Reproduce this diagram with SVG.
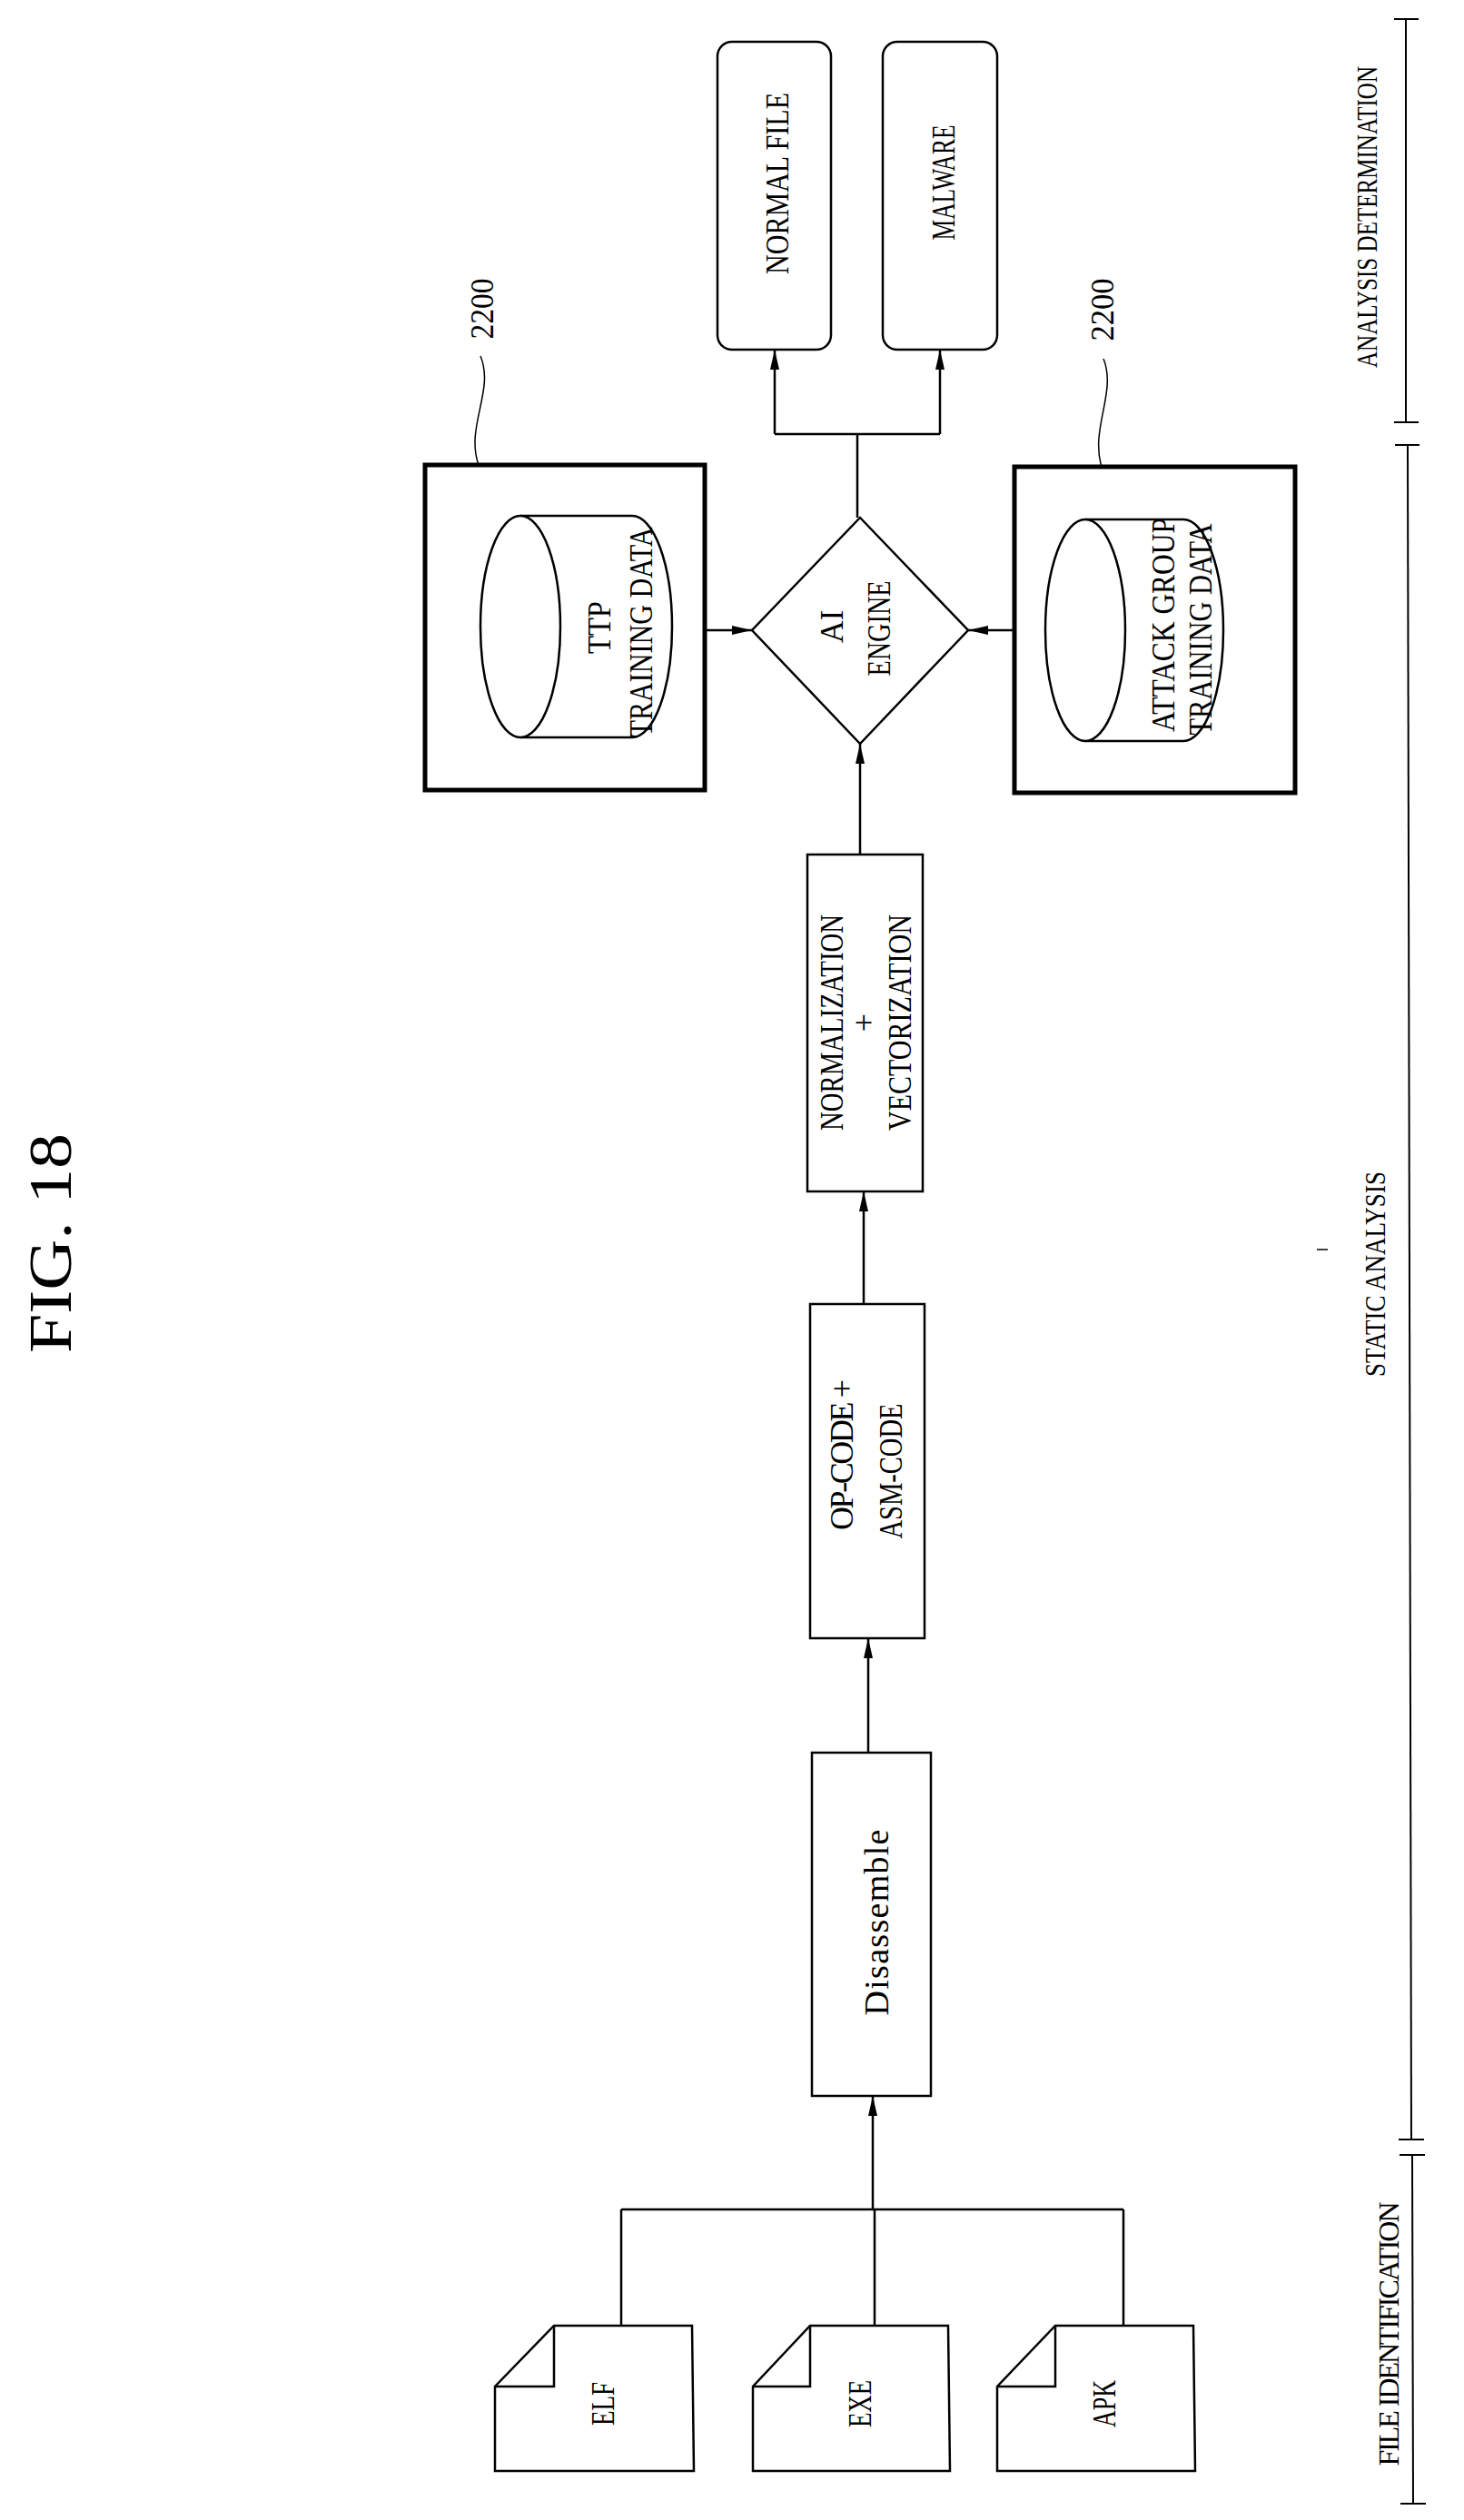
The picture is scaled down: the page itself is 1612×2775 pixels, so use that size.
<svg xmlns="http://www.w3.org/2000/svg" width="1612" height="2775" viewBox="0 0 1612 2775">
<style>
.s{fill:none;stroke:#000;stroke-width:2.5}
.b{fill:#fff;stroke:#000;stroke-width:2.5}
.k{fill:#fff;stroke:#000;stroke-width:5}
.t{font-family:"Liberation Serif",serif;font-size:36px;fill:#000;text-anchor:middle}
.c{stroke:#000;stroke-width:2.5;fill:none}
</style>
<defs>
<marker id="a" viewBox="0 0 10 10" refX="10" refY="5" markerWidth="8" markerHeight="8" markerUnits="userSpaceOnUse" orient="auto" style="overflow:visible">
<path d="M0,0 L10,5 L0,10 z" fill="#000" transform="scale(2.2,1.1) translate(-5.5,-0.45)"/>
</marker>
<marker id="m" viewBox="0 0 22 10" refX="22" refY="5" markerWidth="22" markerHeight="10" markerUnits="userSpaceOnUse" orient="auto">
<path d="M0,0 L22,5 L0,10 z" fill="#000"/>
</marker>
</defs>
<text class="t" style="font-size:68px" transform="translate(78,1369) rotate(-90)" textLength="242" lengthAdjust="spacingAndGlyphs">FIG. 18</text>

<g id="connectors">
<line class="c" x1="684" y1="2561" x2="684" y2="2433"/>
<line class="c" x1="1237" y1="2561" x2="1237" y2="2433"/>
<line class="c" x1="684" y1="2433" x2="1237" y2="2433"/>
<line class="c" x1="963" y1="2561" x2="963" y2="2433"/>
<line class="c" x1="961" y1="2433" x2="961" y2="2308" marker-end="url(#m)"/>
<line class="c" x1="956" y1="1930" x2="956" y2="1804" marker-end="url(#m)"/>
<line class="c" x1="951" y1="1436" x2="951" y2="1312" marker-end="url(#m)"/>
<line class="c" x1="947" y1="941" x2="947" y2="819" marker-end="url(#m)"/>
<line class="c" x1="740" y1="694" x2="828" y2="694" marker-end="url(#m)"/>
<line class="c" x1="1151" y1="694" x2="1066" y2="694" marker-end="url(#m)"/>
<line class="c" x1="944" y1="570" x2="944" y2="478"/>
<line class="c" x1="853" y1="478" x2="1035" y2="478"/>
<line class="c" x1="853" y1="478" x2="853" y2="385" marker-end="url(#m)"/>
<line class="c" x1="1035" y1="478" x2="1035" y2="385" marker-end="url(#m)"/>
</g>

<g id="normal-file"><rect class="b" x="790" y="46" width="125" height="339" rx="16"/>
<text class="t" transform="translate(868,202) rotate(-90)" textLength="200" lengthAdjust="spacingAndGlyphs">NORMAL FILE</text></g>
<g id="malware"><rect class="b" x="972" y="46" width="126" height="339" rx="16"/>
<text class="t" transform="translate(1051,201) rotate(-90)" textLength="127" lengthAdjust="spacingAndGlyphs">MALWARE</text></g>

<g id="ai-engine"><polygon class="b" points="947,570 1066,694 947,819 828,694"/>
<text class="t" transform="translate(928,690) rotate(-90)" textLength="36" lengthAdjust="spacingAndGlyphs">AI</text>
<text class="t" transform="translate(980,692) rotate(-90)" textLength="105" lengthAdjust="spacingAndGlyphs">ENGINE</text></g>

<g id="ttp-training"><rect class="k" x="468" y="512" width="308" height="358"/>
<path class="b" d="M573,568 L696,568 A44,122 0 0 1 696,812 L573,812"/>
<ellipse class="b" cx="573" cy="690" rx="44" ry="122"/>
<text class="t" transform="translate(672,691) rotate(-90)" textLength="58" lengthAdjust="spacingAndGlyphs">TTP</text>
<text class="t" transform="translate(718,696) rotate(-90)" textLength="231" lengthAdjust="spacingAndGlyphs">TRAINING DATA</text></g>

<g id="attack-group-training"><rect class="k" x="1117" y="514" width="309" height="359"/>
<path class="b" d="M1195,572 L1303,572 A44,122 0 0 1 1303,816 L1195,816"/>
<ellipse class="b" cx="1195" cy="694" rx="44" ry="122"/>
<text class="t" transform="translate(1293,688) rotate(-90)" textLength="236" lengthAdjust="spacingAndGlyphs">ATTACK GROUP</text>
<text class="t" transform="translate(1334,693) rotate(-90)" textLength="233" lengthAdjust="spacingAndGlyphs">TRAINING DATA</text></g>

<g id="ref-2200-a"><text class="t" transform="translate(543,340) rotate(-90)" textLength="67" lengthAdjust="spacingAndGlyphs">2200</text>
<path class="s" style="stroke-width:1.5" d="M529,392 C545,430 512,470 527,512"/></g>
<g id="ref-2200-b"><text class="t" transform="translate(1226,341) rotate(-90)" textLength="69" lengthAdjust="spacingAndGlyphs">2200</text>
<path class="s" style="stroke-width:1.5" d="M1215,395 C1230,432 1200,472 1213,514"/></g>

<g id="normalization"><rect class="b" x="889" y="941" width="127" height="371"/>
<text class="t" transform="translate(928,1126) rotate(-90)" textLength="238" lengthAdjust="spacingAndGlyphs">NORMALIZATION</text>
<text class="t" transform="translate(963,1126) rotate(-90)">+</text>
<text class="t" transform="translate(1003,1126) rotate(-90)" textLength="238" lengthAdjust="spacingAndGlyphs">VECTORIZATION</text></g>

<g id="opcode"><rect class="b" x="892" y="1436" width="126" height="368"/>
<text class="t" transform="translate(939,1602) rotate(-90)" textLength="166" lengthAdjust="spacing">OP-CODE +</text>
<text class="t" transform="translate(993,1620) rotate(-90)" textLength="149" lengthAdjust="spacingAndGlyphs">ASM-CODE</text></g>

<g id="disassemble"><rect class="b" x="894" y="1930" width="131" height="378"/>
<text class="t" style="font-size:38px" transform="translate(978,2117) rotate(-90)" textLength="205" lengthAdjust="spacing">Disassemble</text></g>

<g id="elf"><polygon class="b" points="610,2561 762,2561 764,2721 545,2721 545,2628"/>
<polyline class="s" points="610,2561 610,2628 545,2628"/>
<text class="t" transform="translate(676,2647) rotate(-90)" textLength="48" lengthAdjust="spacingAndGlyphs">ELF</text></g>
<g id="exe"><polygon class="b" points="892,2561 1044,2561 1046,2721 829,2721 829,2628"/>
<polyline class="s" points="892,2561 892,2628 829,2628"/>
<text class="t" transform="translate(959,2647) rotate(-90)" textLength="52" lengthAdjust="spacingAndGlyphs">EXE</text></g>
<g id="apk"><polygon class="b" points="1162,2561 1314,2561 1316,2721 1098,2721 1098,2628"/>
<polyline class="s" points="1162,2561 1162,2628 1098,2628"/>
<text class="t" transform="translate(1228,2647) rotate(-90)" textLength="52" lengthAdjust="spacingAndGlyphs">APK</text></g>

<g id="phases">
<line class="s" style="stroke-width:2" x1="1548" y1="21" x2="1548" y2="465"/>
<line class="s" style="stroke-width:2" x1="1535" y1="21" x2="1562" y2="21"/>
<line class="s" style="stroke-width:2" x1="1535" y1="465" x2="1562" y2="465"/>
<line class="s" style="stroke-width:2" x1="1536" y1="490" x2="1563" y2="490"/>
<line class="s" style="stroke-width:2" x1="1550" y1="490" x2="1554" y2="2356"/>
<line class="s" style="stroke-width:2" x1="1540" y1="2356" x2="1568" y2="2356"/>
<line class="s" style="stroke-width:2" x1="1541" y1="2373" x2="1569" y2="2373"/>
<line class="s" style="stroke-width:2" x1="1555" y1="2373" x2="1556" y2="2757"/>
<line class="s" style="stroke-width:2" x1="1542" y1="2757" x2="1570" y2="2757"/>
<line class="s" style="stroke-width:1.5" x1="1450" y1="1376" x2="1462" y2="1376"/>
<text class="t" style="font-size:32px" transform="translate(1516,239) rotate(-90)" textLength="332" lengthAdjust="spacingAndGlyphs">ANALYSIS DETERMINATION</text>
<text class="t" style="font-size:32px" transform="translate(1525,1403) rotate(-90)" textLength="226" lengthAdjust="spacingAndGlyphs">STATIC ANALYSIS</text>
<text class="t" style="font-size:32px" transform="translate(1540,2570) rotate(-90)" textLength="291" lengthAdjust="spacing">FILE IDENTIFICATION</text>
</g>
</svg>
